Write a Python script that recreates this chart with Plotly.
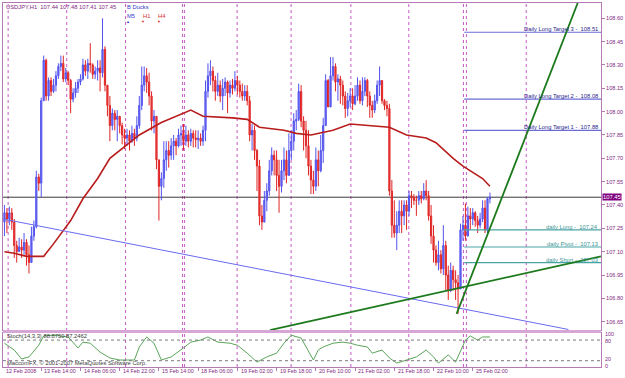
import plotly.graph_objects as go

# ---------------- data ----------------
first_open = 107.29
close = [
107.35,107.31,107.35,107.29,107.14,107.10,107.13,107.11,107.16,107.08,
107.03,107.20,107.26,107.58,107.54,108.07,108.33,108.10,108.20,108.13,
108.17,108.23,108.29,108.31,108.21,108.25,108.20,108.08,108.12,108.15,
108.19,108.21,108.30,108.26,108.31,108.30,108.24,108.26,108.28,108.25,
108.40,108.17,108.04,107.91,107.99,107.95,107.97,107.91,107.85,107.83,
107.85,107.81,107.86,107.83,107.91,108.04,108.17,108.23,108.19,108.10,
107.94,107.97,107.69,107.52,107.57,107.69,107.75,107.72,107.78,107.81,
107.78,107.85,107.86,107.81,107.85,107.81,107.86,107.83,107.82,107.83,
107.81,107.88,108.13,108.23,108.26,108.20,108.13,108.17,108.10,108.15,
108.19,108.12,108.17,108.15,108.20,108.17,108.13,108.10,108.13,108.07,
107.85,107.88,107.75,107.65,107.33,107.29,107.43,107.49,107.62,107.72,
107.69,107.59,107.52,107.62,107.69,107.59,107.75,107.81,107.94,107.95,
108.13,107.94,107.88,107.78,107.65,107.56,107.52,107.69,107.62,107.75,
107.91,108.20,108.03,108.23,108.29,108.19,108.21,108.17,108.10,108.02,
108.07,108.10,108.05,108.10,108.17,108.07,108.13,108.20,108.10,108.04,
108.01,108.07,108.17,108.20,108.07,108.04,108.02,107.49,107.27,107.22,
107.27,107.36,107.33,107.40,107.36,107.46,107.45,107.43,107.43,107.46,
107.44,107.49,107.46,107.33,107.20,107.11,107.03,107.08,106.99,107.14,
106.95,106.85,106.98,106.92,106.90,106.86,107.24,107.27,107.20,107.33,
107.31,107.35,107.30,107.27,107.31,107.38,107.24,107.44,107.45]
high = [
107.40,107.38,107.39,107.38,107.31,107.17,107.19,107.18,107.22,107.18,
107.14,107.26,107.30,107.62,107.60,108.09,108.36,108.34,108.22,108.22,
108.21,108.26,108.31,108.36,108.36,108.28,108.26,108.21,108.15,108.19,
108.21,108.24,108.34,108.33,108.34,108.44,108.31,108.29,108.33,108.33,
108.60,108.42,108.17,108.10,108.02,108.01,108.01,107.97,107.93,107.89,
107.89,107.88,107.91,107.89,107.97,108.10,108.29,108.29,108.28,108.25,
108.13,108.01,107.97,107.69,107.61,107.81,107.81,107.81,107.83,107.85,
107.83,107.89,107.91,107.92,107.91,107.88,107.89,107.88,107.88,107.88,
107.86,107.91,108.20,108.31,108.33,108.29,108.23,108.25,108.20,108.21,
108.22,108.20,108.20,108.21,108.26,108.23,108.20,108.18,108.17,108.17,
108.10,107.92,107.91,107.76,107.69,107.40,107.49,107.54,107.69,107.77,
107.75,107.75,107.69,107.69,107.77,107.75,107.86,107.88,107.99,108.01,
108.18,108.17,107.97,107.94,107.88,107.69,107.62,107.77,107.75,107.85,
107.96,108.24,108.21,108.35,108.35,108.31,108.24,108.23,108.20,108.13,
108.12,108.15,108.15,108.17,108.22,108.20,108.22,108.22,108.21,108.13,
108.07,108.11,108.20,108.29,108.20,108.08,108.07,108.05,107.56,107.43,
107.36,107.43,107.43,107.43,107.43,107.49,107.49,107.47,107.46,107.49,
107.49,107.54,107.56,107.49,107.40,107.27,107.14,107.17,107.11,107.27,
107.17,107.01,107.03,107.01,106.98,106.95,107.28,107.33,107.41,107.39,
107.38,107.38,107.36,107.33,107.35,107.43,107.43,107.45,107.48]
low = [
107.20,107.22,107.27,107.24,107.06,107.03,107.10,107.06,107.08,107.01,
106.96,107.03,107.17,107.25,107.49,107.45,108.07,108.07,108.07,108.10,
108.12,108.13,108.21,108.26,108.19,108.19,108.17,107.99,108.06,108.09,
108.12,108.17,108.20,108.23,108.21,108.25,108.21,108.21,108.20,108.13,
108.22,108.13,107.97,107.81,107.88,107.88,107.81,107.86,107.79,107.76,
107.78,107.75,107.80,107.78,107.81,107.89,108.01,108.13,108.12,108.04,
107.88,107.86,107.63,107.30,107.43,107.51,107.62,107.64,107.69,107.69,
107.72,107.77,107.78,107.75,107.78,107.77,107.78,107.77,107.77,107.76,
107.78,107.78,107.81,108.09,108.17,108.13,108.07,108.10,108.06,108.01,
108.10,107.99,108.09,108.11,108.13,108.11,108.09,108.07,108.07,108.04,
107.81,107.75,107.69,107.49,107.27,107.24,107.29,107.36,107.46,107.59,
107.59,107.49,107.35,107.48,107.56,107.54,107.62,107.69,107.75,107.88,
107.94,107.90,107.75,107.70,107.59,107.47,107.47,107.49,107.52,107.61,
107.67,107.94,108.03,108.03,108.20,108.13,108.07,108.05,108.04,107.96,
107.97,108.03,108.01,108.04,108.07,108.05,108.04,108.10,108.03,107.96,
107.96,107.99,108.05,108.10,108.05,108.01,107.97,107.46,107.19,107.19,
107.11,107.22,107.22,107.27,107.24,107.33,107.38,107.40,107.33,107.40,
107.41,107.43,107.43,107.30,107.15,107.03,107.01,106.98,106.96,106.95,
106.85,106.79,106.84,106.85,106.79,106.70,106.86,107.17,107.17,107.22,
107.24,107.27,107.26,107.22,107.25,107.29,107.22,107.22,107.41]
bars = list(range(1, len(close) + 1))
opens = [first_open] + close[:-1]

ma_bar = [1,5,10,17,21,25,28,33,39,44,51,56,65,74,77,82,94,100,105,115,120,126,135,142,150,158,165,173,177,184,188,191,196,199]
ma_val = [107.10,107.09,107.07,107.07,107.15,107.24,107.30,107.44,107.57,107.70,107.79,107.85,107.93,107.99,108.01,107.97,
          107.96,107.95,107.90,107.88,107.86,107.85,107.88,107.92,107.91,107.90,107.85,107.83,107.80,107.70,107.65,107.62,107.57,107.52]

st_bar = [1,5,8,11,15,17,21,27,31,33,36,40,44,48,54,56,59,62,65,69,74,77,81,84,88,93,96,100,104,108,112,115,118,122,127,129,
          131,135,139,142,145,149,151,155,158,161,165,169,173,176,178,182,185,189,191,194,196,199]
st_val = [71,51,25,31,65,92,94,89,57,74,71,45,28,22,22,60,89,71,22,31,57,74,80,89,74,71,65,42,16,31,42,71,94,86,22,51,
          60,71,74,71,65,60,42,51,28,13,22,31,51,31,13,37,16,80,92,80,89,89]

separators = [2.5, 26.4, 50.4, 73.6, 74.4, 95.9, 117.9, 142.3, 165.9, 188.2, 189.4, 213.8]
time_tick_bar = [0, 16, 32, 48, 64, 80, 96, 112, 128, 144, 160, 176, 192]
time_tick_text = ["12 Feb 2008", "13 Feb 14:00", "14 Feb 06:00", "14 Feb 22:00", "15 Feb 14:00", "18 Feb 06:00",
                  "19 Feb 02:00", "19 Feb 18:00", "20 Feb 10:00", "21 Feb 02:00", "21 Feb 18:00", "22 Feb 10:00",
                  "25 Feb 02:00"]
price_ticks = [106.65, 106.80, 106.95, 107.10, 107.25, 107.40, 107.55, 107.70, 107.85, 108.00, 108.15, 108.30, 108.45, 108.60]
stoch_levels = [("100", 97), ("80", 77), ("20", 24), ("0", 6)]

target_text = ["Daily Long Target 3 -  108.51", "Daily Long Target 2 -  108.08", "Daily Long Target 1 -  107.88"]
target_val = [108.51, 108.08, 107.88]
daily_text = ["daily Long -  107.24", "daily Pivot -  107.13", "daily Short -  107.03"]
daily_val = [107.24, 107.13, 107.03]
level_start_bar = 188.5

last_price = 107.45
header = "USDJPY,H1  107.44 107.48 107.41 107.45"
stoch_label = "Stoch(14,3,3) 88.8750 87.2462"
copyright_txt = "MaccomFX, \u00a9 2001-2007 MetaQuotes Software Corp."

blue_tl = ([0.41, 231.0], [107.31, 106.60])
green_tl1 = ([109.3, 244.3], [106.596, 107.07])
green_tl2 = ([185.4, 234.8], [106.70, 108.698])

# ---------------- style ----------------
FONT = "Liberation Sans, Arial, sans-serif"
PURPLE = "#7F2A7F"
BORDER = "#B47AB4"
W, H = 625, 378
L, R, T, B = 2, 23, 2, 11
PH = H - T - B
def py(pix):  # pixel row -> paper fraction
    return (H - B - pix) / PH

XR = [0.41, 244.3]
YR = [106.596, 108.698]

high_c = [max(h, o, c) for h, o, c in zip(high, opens, close)]
low_c = [min(l, o, c) for l, o, c in zip(low, opens, close)]

fig = go.Figure()
fig.add_trace(go.Candlestick(
    x=bars, open=opens, high=high_c, low=low_c, close=close,
    increasing=dict(line=dict(color="#5252EE", width=1), fillcolor="#7070F2"),
    decreasing=dict(line=dict(color="#E02424", width=1), fillcolor="#E84848"),
    whiskerwidth=0, xaxis="x", yaxis="y", hoverinfo="skip"))
fig.add_trace(go.Scatter(x=ma_bar, y=ma_val, mode="lines", line=dict(color="#B81C1C", width=1.6),
                         xaxis="x", yaxis="y", hoverinfo="skip"))
fig.add_trace(go.Scatter(x=st_bar, y=st_val, mode="lines", line=dict(color="#5AA55A", width=1),
                         xaxis="x2", yaxis="y2", hoverinfo="skip"))

shapes = []
for s in separators:
    shapes.append(dict(type="line", xref="x", yref="paper", x0=s, x1=s, y0=0, y1=1,
                       line=dict(color="#C85AC8", width=1, dash="dot"), layer="below"))
shapes.append(dict(type="line", xref="paper", yref="y", x0=0, x1=1, y0=last_price, y1=last_price,
                   line=dict(color="#3A3A3A", width=1), layer="below"))
for v in target_val:
    shapes.append(dict(type="line", xref="x", yref="y", x0=level_start_bar, x1=XR[1], y0=v, y1=v,
                       line=dict(color="#6B6BD6", width=1.2)))
for v in daily_val:
    shapes.append(dict(type="line", xref="x", yref="y", x0=level_start_bar, x1=XR[1], y0=v, y1=v,
                       line=dict(color="#4AA3A3", width=1.2)))
for (xs, ys), col, wd in [(blue_tl, "#6A6AF0", 1), (green_tl1, "#1C7A1C", 1.8), (green_tl2, "#1C7A1C", 1.8)]:
    shapes.append(dict(type="line", xref="x", yref="y", x0=xs[0], x1=xs[1], y0=ys[0], y1=ys[1],
                       line=dict(color=col, width=wd)))
for v in [80, 20]:
    shapes.append(dict(type="line", xref="paper", yref="y2", x0=0, x1=1, y0=v, y1=v,
                       line=dict(color="#7A7A7A", width=1, dash="dot")))
shapes.append(dict(type="rect", xref="paper", yref="paper", x0=0, x1=1, y0=py(333), y1=py(330),
                   fillcolor="#D6A6D6", line=dict(width=0)))

ann = []
def txt(x, y, s, color, size=5.8, xanchor="left", yanchor="middle", xref="paper", yref="paper", **kw):
    ann.append(dict(x=x, y=y, xref=xref, yref=yref, text=s, showarrow=False, xanchor=xanchor, yanchor=yanchor,
                    font=dict(family=FONT, size=size, color=color), **kw))

txt(0.001, py(6), header, PURPLE)
txt((124 - L) / 600, py(6), "B Ducks", "#3A3AC8")
txt((124 - L) / 600, py(15), "M5", "#3A3AC8")
txt((140 - L) / 600, py(15), "H1", "#D83030")
txt((156 - L) / 600, py(15), "H4", "#D83030")
txt((127.3 - L) / 600, py(21), "\u25b2", "#3A3AC8", size=4, xanchor="center")
txt((142.8 - L) / 600, py(21), "\u25bc", "#D83030", size=4, xanchor="center")
txt((158.6 - L) / 600, py(21), "\u25bc", "#D83030", size=4, xanchor="center")

for s, v in zip(target_text, target_val):
    txt(0.999, v, s, "#26268A", xanchor="right", yanchor="bottom", yref="y", yshift=-2)
for s, v in zip(daily_text, daily_val):
    txt(0.999, v, s, "#3A9696", xanchor="right", yanchor="bottom", yref="y", yshift=-2)

txt(1.0, last_price, "107.45", "white", size=5.8, yref="y", bgcolor="#800080", borderpad=0, xshift=1)

for b, s in zip(time_tick_bar, time_tick_text):
    txt(max(b, XR[0]) + 0.5, py(371), s, PURPLE, size=5.4, xref="x2")

txt(0.003, py(336), stoch_label, "#3A3A3A")
txt(0.003, py(362.5), copyright_txt, "#3A3A3A")
for s, v in stoch_levels:
    txt(1.0, v, s, PURPLE, size=5.4, yref="y2", xshift=2)

axis_common = dict(showgrid=False, zeroline=False, fixedrange=True)
fig.update_layout(
    width=W, height=H, margin=dict(l=L, r=R, t=T, b=B),
    paper_bgcolor="white", plot_bgcolor="white", showlegend=False,
    xaxis=dict(domain=[0, 1], range=XR, anchor="y", showticklabels=False, showline=True, mirror=True,
               linecolor=BORDER, linewidth=1, rangeslider=dict(visible=False), ticks="", **axis_common),
    yaxis=dict(domain=[py(330), 1], range=YR, side="right", anchor="x", tickvals=price_ticks,
               ticktext=["%.2f" % v for v in price_ticks], ticks="outside", ticklen=3, tickcolor=BORDER,
               tickfont=dict(family=FONT, size=5.6, color=PURPLE), showline=True, mirror=True,
               linecolor=BORDER, linewidth=1, **axis_common),
    xaxis2=dict(domain=[0, 1], range=XR, anchor="y2", tickvals=time_tick_bar, showticklabels=False,
                ticks="outside", ticklen=3, tickcolor=BORDER, showline=True, mirror=True, linecolor=BORDER,
                linewidth=1, **axis_common),
    yaxis2=dict(domain=[0, py(333)], range=[1.7, 100.3], side="right", anchor="x2", showticklabels=False,
                ticks="", showline=True, mirror=True, linecolor=BORDER, linewidth=1, **axis_common),
    shapes=shapes, annotations=ann,
)
fig.write_html("out.html")
